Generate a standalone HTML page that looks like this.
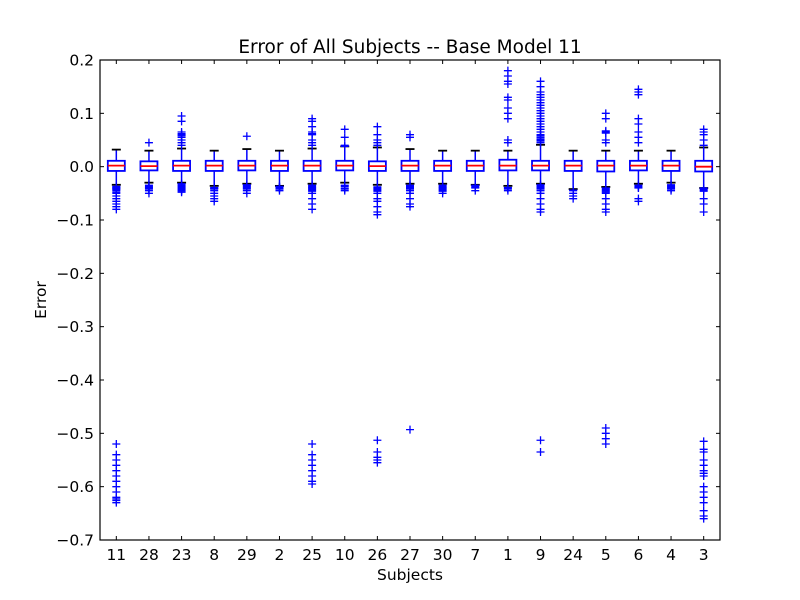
<!DOCTYPE html>
<html><head><meta charset="utf-8"><style>
html,body{margin:0;padding:0;background:#fff;}
svg{display:block;font-family:"DejaVu Sans","Liberation Sans",sans-serif;}
</style></head><body>
<svg id="chart" width="800" height="600" xmlns="http://www.w3.org/2000/svg">
<rect width="800" height="600" fill="#fff"/>
<text x="410" y="53" font-size="18.5" text-anchor="middle">Error of All Subjects -- Base Model 11</text>
<text x="410" y="580" font-size="15.5" text-anchor="middle">Subjects</text>
<text x="46" y="300" font-size="15.5" text-anchor="middle" transform="rotate(-90 46 300)">Error</text>
<g id="plot"></g>
</svg>
<script>
const categories=["11","28","23","8","29","2","25","10","26","27","30","7","1","9","24","5","6","4","3"];
const q1=[-0.008,-0.007,-0.008,-0.008,-0.007,-0.008,-0.008,-0.007,-0.008,-0.008,-0.008,-0.008,-0.007,-0.007,-0.008,-0.009,-0.007,-0.008,-0.009];
const medians=[0.002,0.001,0.002,0.002,0.002,0.002,0.002,0.002,0.001,0.002,0.002,0.002,0.002,0.002,0.002,0.002,0.002,0.002,0.000];
const q3=[0.011,0.010,0.011,0.011,0.011,0.011,0.011,0.011,0.010,0.011,0.011,0.011,0.013,0.011,0.011,0.011,0.011,0.011,0.011];
const whiskerHigh=[0.032,0.030,0.034,0.030,0.033,0.030,0.034,0.038,0.036,0.033,0.030,0.030,0.030,0.041,0.030,0.030,0.030,0.030,0.036];
const whiskerLow=[-0.034,-0.030,-0.030,-0.036,-0.032,-0.036,-0.032,-0.030,-0.034,-0.032,-0.032,-0.034,-0.036,-0.032,-0.042,-0.038,-0.032,-0.030,-0.040];
const outliers=[
[-0.037,-0.038,-0.039,-0.04,-0.041,-0.042,-0.043,-0.045,-0.048,-0.05,-0.055,-0.06,-0.065,-0.07,-0.075,-0.08,-0.52,-0.54,-0.55,-0.56,-0.57,-0.58,-0.59,-0.6,-0.61,-0.62,-0.623,-0.626,-0.63],
[0.045,-0.035,-0.037,-0.039,-0.04,-0.042,-0.045,-0.05],
[0.04,0.045,0.05,0.055,0.058,0.06,0.062,0.065,0.085,0.095,-0.032,-0.034,-0.036,-0.038,-0.04,-0.042,-0.044,-0.046,-0.048],
[-0.039,-0.04,-0.041,-0.042,-0.045,-0.05,-0.055,-0.06,-0.065],
[0.057,-0.034,-0.036,-0.038,-0.04,-0.042,-0.045,-0.05],
[-0.037,-0.038,-0.04,-0.042,-0.045],
[0.04,0.045,0.05,0.06,0.062,0.065,0.075,0.085,0.09,-0.035,-0.037,-0.039,-0.04,-0.042,-0.044,-0.046,-0.05,-0.06,-0.07,-0.08,-0.52,-0.54,-0.55,-0.56,-0.57,-0.58,-0.59,-0.595],
[0.038,0.04,0.055,0.07,-0.035,-0.037,-0.04,-0.042,-0.045],
[0.04,0.045,0.05,0.06,0.075,-0.038,-0.04,-0.042,-0.044,-0.046,-0.05,-0.06,-0.065,-0.075,-0.085,-0.09,-0.513,-0.535,-0.545,-0.55,-0.555],
[0.055,0.06,-0.035,-0.037,-0.039,-0.04,-0.042,-0.045,-0.05,-0.06,-0.07,-0.075,-0.493],
[-0.035,-0.037,-0.039,-0.04,-0.042,-0.044,-0.046,-0.05],
[-0.035,-0.037,-0.039,-0.04,-0.045],
[0.045,0.05,0.09,0.1,0.11,0.125,0.13,0.155,0.16,0.17,0.18,-0.039,-0.04,-0.042,-0.045],
[0.045,0.048,0.05,0.052,0.055,0.058,0.06,0.065,0.07,0.075,0.08,0.085,0.09,0.095,0.1,0.105,0.11,0.115,0.12,0.125,0.13,0.135,0.14,0.15,0.16,-0.034,-0.036,-0.038,-0.04,-0.042,-0.045,-0.05,-0.06,-0.07,-0.08,-0.085,-0.513,-0.535],
[-0.044,-0.045,-0.05,-0.055,-0.06],
[0.045,0.05,0.063,0.065,0.067,0.09,0.1,-0.04,-0.042,-0.044,-0.046,-0.048,-0.05,-0.06,-0.07,-0.08,-0.085,-0.49,-0.5,-0.51,-0.52],
[0.045,0.055,0.065,0.08,0.09,0.135,0.14,0.145,-0.035,-0.037,-0.039,-0.04,-0.06,-0.065],
[-0.034,-0.036,-0.038,-0.04,-0.042,-0.045],
[0.04,0.05,0.06,0.065,0.07,-0.04,-0.042,-0.044,-0.046,-0.06,-0.07,-0.085,-0.515,-0.53,-0.535,-0.55,-0.56,-0.57,-0.575,-0.58,-0.6,-0.61,-0.62,-0.63,-0.645,-0.655,-0.66]
];
const yTicks=[0.2,0.1,0.0,-0.1,-0.2,-0.3,-0.4,-0.5,-0.6,-0.7];
const yTickLabels=["0.2","0.1","0.0","\u22120.1","\u22120.2","\u22120.3","\u22120.4","\u22120.5","\u22120.6","\u22120.7"];

const L=100,R=720,T=60,B=540,yMax=0.2,yMin=-0.7;
const n=categories.length, step=(R-L)/n;
const xs=i=>L+step*(i+0.5);
const ys=v=>T+(yMax-v)/(yMax-yMin)*(B-T);
const NS="http://www.w3.org/2000/svg";
const g=document.getElementById('plot');
function mk(tag,attrs,parent){const e=document.createElementNS(NS,tag);for(const k in attrs)e.setAttribute(k,attrs[k]);(parent||g).appendChild(e);return e;}

categories.forEach((c,i)=>{
  const x=xs(i), hw=8.5;
  const grp=mk('g',{});
  
  
  mk('line',{x1:x,x2:x,y1:ys(q3[i]),y2:ys(whiskerHigh[i]),stroke:'#00f','stroke-width':1.5},grp);
  mk('line',{x1:x,x2:x,y1:ys(q1[i]),y2:ys(whiskerLow[i]),stroke:'#00f','stroke-width':1.5},grp);
  mk('line',{x1:x-4.5,x2:x+4.5,y1:ys(whiskerHigh[i]),y2:ys(whiskerHigh[i]),stroke:'#000','stroke-width':1.8},grp);
  mk('line',{x1:x-4.5,x2:x+4.5,y1:ys(whiskerLow[i]),y2:ys(whiskerLow[i]),stroke:'#000','stroke-width':1.8},grp);
  mk('rect',{x:x-hw,y:ys(q3[i]),width:2*hw,height:ys(q1[i])-ys(q3[i]),fill:'#fff',stroke:'#00f','stroke-width':1.8},grp);
  mk('line',{x1:x-hw,x2:x+hw,y1:ys(medians[i]),y2:ys(medians[i]),stroke:'#f00','stroke-width':1.8},grp);
  outliers[i].forEach(v=>{
    const y=ys(v);
    const p=mk('path',{d:`M${x-4},${y}H${x+4}M${x},${y-4}V${y+4}`,stroke:'#00f','stroke-width':1.3},grp);
    
    
  });
  mk('line',{x1:x,x2:x,y1:B,y2:B-4,stroke:'#000'});
  mk('line',{x1:x,x2:x,y1:T,y2:T+4,stroke:'#000'});
  const t=mk('text',{x:x,y:B+20,'font-size':15.5,'text-anchor':'middle'});
  t.textContent=c;
  
  
});
yTicks.forEach((v,i)=>{
  const y=ys(v);
  mk('line',{x1:L,x2:L+4,y1:y,y2:y,stroke:'#000'});
  mk('line',{x1:R,x2:R-4,y1:y,y2:y,stroke:'#000'});
  const t=mk('text',{x:L-6,y:y+5.5,'font-size':15.5,'text-anchor':'end'});
  t.textContent=yTickLabels[i];
  
  
});
const frame=mk('rect',{x:L,y:T,width:R-L,height:B-T,fill:'none',stroke:'#000','stroke-width':1.2});


</script>
</body></html>
